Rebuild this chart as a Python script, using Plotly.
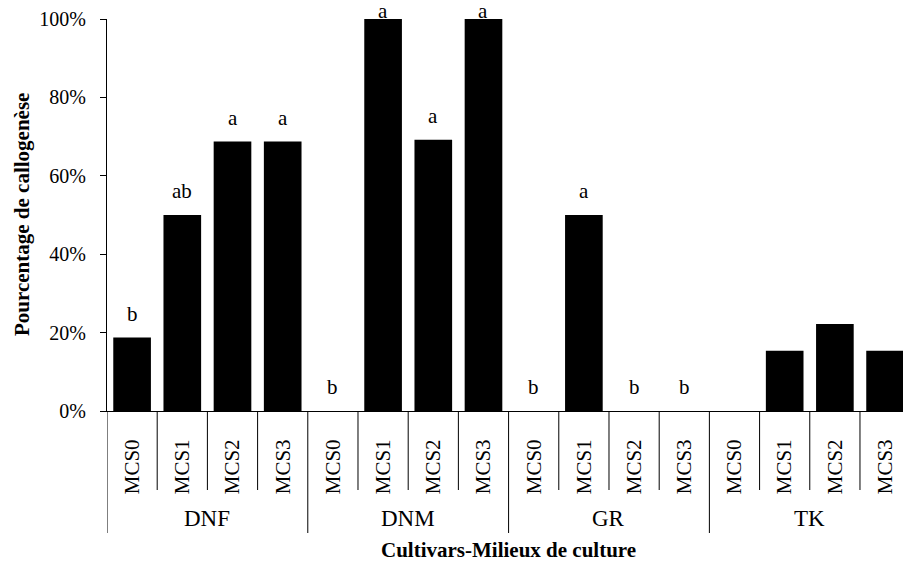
import plotly.graph_objects as go

cultivars = ["DNF", "DNM", "GR", "TK"]
milieux = ["MCS0", "MCS1", "MCS2", "MCS3"]
dnf = [0.1875, 0.50, 0.6875, 0.6875]
dnm = [0.0, 1.0, 0.692, 1.0]
gr = [0.0, 0.50, 0.0, 0.0]
tk = [0.0, 0.154, 0.222, 0.154]
letters_dnf = ["b", "ab", "a", "a"]
letters_dnm = ["b", "a", "a", "a"]
letters_gr = ["b", "a", "b", "b"]
letters_tk = ["", "", "", ""]
y_ticks = [0, 0.2, 0.4, 0.6, 0.8, 1.0]

values = dnf + dnm + gr + tk
letters = letters_dnf + letters_dnm + letters_gr + letters_tk
inner = milieux * len(cultivars)
n = len(values)
xs = list(range(n))

FONT = "Times New Roman, Liberation Serif, serif"

fig = go.Figure()
fig.add_trace(go.Bar(x=xs, y=values, width=0.75, marker=dict(color="black", line=dict(width=0)),
                     showlegend=False, hoverinfo="skip"))

annotations = []
for x, v, t in zip(xs, values, letters):
    if not t:
        continue
    annotations.append(dict(x=x, y=v, xref="x", yref="y", text=t, showarrow=False,
                            yanchor="bottom", yshift=(10 if v < 0.95 else -6),
                            font=dict(family=FONT, size=21, color="black")))

shapes = []
m = len(milieux)
for k in range(n + 1):
    long_ = (k % m == 0)
    shapes.append(dict(type="line", xref="x", yref="paper", ysizemode="pixel", yanchor=0,
                       x0=k - 0.5, x1=k - 0.5, y0=0, y1=(-122 if long_ else -79),
                       line=dict(color="black", width=1)))

for gi, g in enumerate(cultivars):
    annotations.append(dict(x=gi * m + (m - 1) / 2, y=0, xref="x", yref="paper", text=g,
                            showarrow=False, yanchor="middle", yshift=-107,
                            font=dict(family=FONT, size=23, color="black")))

annotations.append(dict(x=(n - 1) / 2, y=0, xref="x", yref="paper",
                        text="<b>Cultivars-Milieux de culture</b>", showarrow=False,
                        yanchor="middle", yshift=-139,
                        font=dict(family=FONT, size=21, color="black")))
annotations.append(dict(x=0, y=0.5, xref="paper", yref="paper",
                        text="<b>Pourcentage de callogenèse</b>", showarrow=False,
                        textangle=-90, xanchor="center", yanchor="middle", xshift=-85,
                        font=dict(family=FONT, size=21, color="black")))

fig.update_layout(
    width=903, height=563,
    margin=dict(l=107, r=0, t=19, b=152, pad=0),
    plot_bgcolor="white", paper_bgcolor="white",
    bargap=0.25,
    font=dict(family=FONT, size=20, color="black"),
    xaxis=dict(range=[-0.5, 15.357], tickmode="array", tickvals=xs, ticktext=inner,
               tickangle=-90, ticks="", showgrid=False, zeroline=False,
               showline=True, linecolor="black", linewidth=1,
               tickfont=dict(family=FONT, size=21, color="black"), ticklabelstandoff=19),
    yaxis=dict(range=[0, 1], tickmode="array", tickvals=y_ticks, tickformat=".0%",
               ticks="outside", ticklen=6, tickcolor="black", tickwidth=1,
               showgrid=False, zeroline=False, showline=True, linecolor="black", linewidth=1,
               tickfont=dict(family=FONT, size=20, color="black"), ticklabelstandoff=10),
    annotations=annotations,
    shapes=shapes,
)

fig.write_html("out.html", config={"displayModeBar": False},
               post_script="document.body.style.margin='0px';document.body.style.overflow='hidden';")
